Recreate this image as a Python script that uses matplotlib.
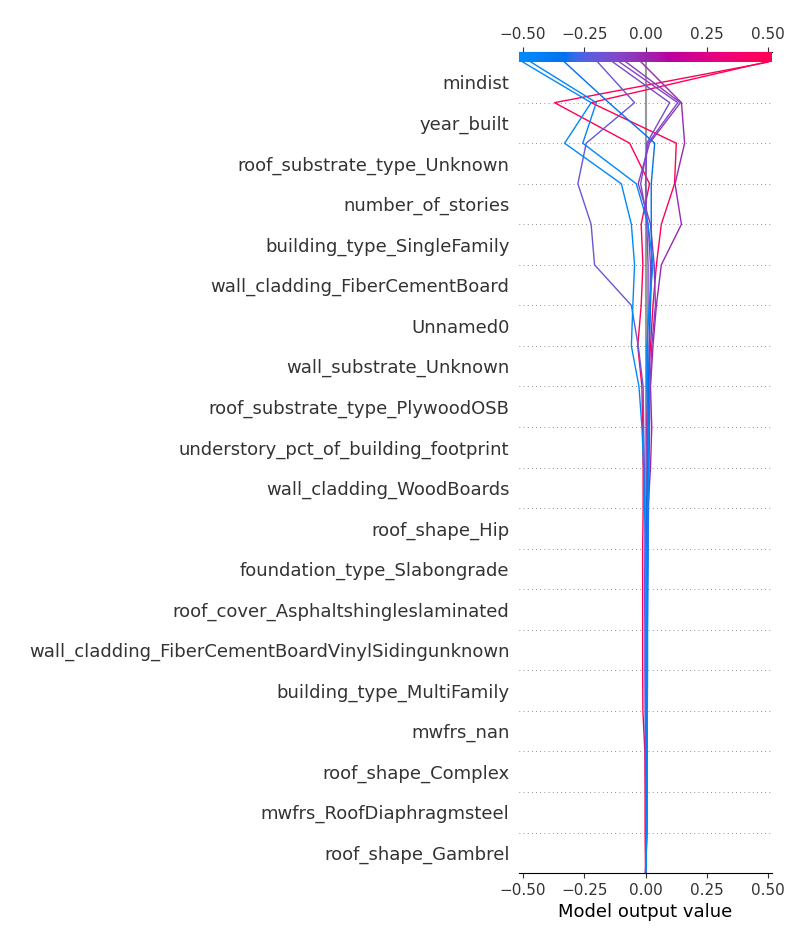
import numpy as np
import matplotlib
matplotlib.use("Agg")
import matplotlib.pyplot as plt
from matplotlib import cm
from matplotlib.colors import LinearSegmentedColormap, Normalize

# features as displayed, top to bottom
feature_names = [
    "mindist",
    "year_built",
    "roof_substrate_type_Unknown",
    "number_of_stories",
    "building_type_SingleFamily",
    "wall_cladding_FiberCementBoard",
    "Unnamed0",
    "wall_substrate_Unknown",
    "roof_substrate_type_PlywoodOSB",
    "understory_pct_of_building_footprint",
    "wall_cladding_WoodBoards",
    "roof_shape_Hip",
    "foundation_type_Slabongrade",
    "roof_cover_Asphaltshingleslaminated",
    "wall_cladding_FiberCementBoardVinylSidingunknown",
    "building_type_MultiFamily",
    "mwfrs_nan",
    "roof_shape_Complex",
    "mwfrs_RoofDiaphragmsteel",
    "roof_shape_Gambrel",
]

base_value = 0.0

# cumulative model output per observation, from the base value (bottom) to the final output (top)
obs_a = [0, 0.006, 0.007, 0.007, 0.007, 0.006, 0.005, 0.004, 0.002, -0.004, -0.008,
         -0.015, -0.027, -0.058, -0.052, -0.045, -0.058, -0.099, -0.33, -0.222, -0.50]
obs_b = [0, 0.005, 0.006, 0.007, 0.007, 0.008, 0.008, 0.009, 0.01, 0.01, 0.012,
         0.01, 0.005, 0.005, 0.015, 0.03, 0.01, -0.038, -0.256, -0.201, -0.467]
obs_c = [0, 0.004, 0.005, 0.005, 0.006, 0.006, 0.006, 0.005, 0.005, 0.005, 0.008,
         0.01, 0.012, 0.015, 0.02, 0.025, 0.023, 0.023, 0.037, -0.15, -0.33]
obs_d = [0, 0.001, 0.0, -0.001, -0.002, -0.003, -0.003, -0.004, -0.003, -0.003, -0.005,
         -0.008, -0.01, -0.03, -0.058, -0.208, -0.222, -0.276, -0.242, -0.045, -0.195]
obs_e = [0, 0.002, 0.002, 0.002, 0.002, 0.002, 0.002, 0.003, 0.004, 0.005, 0.006,
         0.006, 0.008, 0.008, 0.01, 0.01, 0.005, 0.0, 0.005, 0.098, -0.133]
obs_f = [0, 0.003, 0.003, 0.003, 0.003, 0.004, 0.005, 0.006, 0.007, 0.008, 0.01,
         0.012, 0.014, 0.015, 0.018, 0.02, 0.01, -0.02, 0.01, 0.131, -0.106]
obs_g = [0, 0.003, 0.004, 0.004, 0.005, 0.006, 0.007, 0.008, 0.01, 0.012, 0.014,
         0.016, 0.018, 0.025, 0.04, 0.035, 0.02, -0.03, 0.016, 0.142, -0.079]
obs_h = [0, 0.002, 0.003, 0.003, 0.004, 0.005, 0.006, 0.007, 0.008, 0.01, 0.02,
         0.025, 0.02, 0.03, 0.044, 0.064, 0.146, 0.12, 0.159, 0.146, -0.018]
obs_i = [0, -0.002, -0.002, -0.003, -0.011, -0.012, -0.012, -0.012, -0.012, -0.01, -0.01,
         -0.012, -0.015, -0.032, -0.018, -0.011, -0.018, 0.016, -0.065, -0.371, 0.50]
obs_j = [0, 0.004, 0.005, 0.006, 0.006, 0.006, 0.006, 0.006, 0.006, 0.007, 0.008,
         0.005, 0.01, 0.02, 0.03, 0.044, 0.064, 0.118, 0.125, -0.222, 0.49]

observations = [obs_i, obs_j, obs_h, obs_g, obs_f, obs_e, obs_d, obs_c, obs_b, obs_a]


def lch2rgb(lch):
    """
    Converts an LCH colour (hue in radians) to sRGB
    """
    l, c, h = lch
    fy = (l + 16.0) / 116.0
    f = np.array([fy + c * np.cos(h) / 500.0, fy, fy - c * np.sin(h) / 200.0])
    xyz = np.where(f ** 3 > 0.008856, f ** 3, (f - 16.0 / 116.0) / 7.787)
    xyz = xyz * np.array([0.95047, 1.0, 1.08883])
    m = np.array([[3.2404542, -1.5371385, -0.4985314],
                  [-0.9692660, 1.8760108, 0.0415560],
                  [0.0556434, -0.2040259, 1.0572252]])
    rgb = m @ xyz
    rgb = np.where(rgb > 0.0031308, 1.055 * np.abs(rgb) ** (1 / 2.4) - 0.055, 12.92 * rgb)
    return np.clip(rgb, 0, 1)


def red_blue_cmap():
    """
    Blue to red colour scale, interpolated in LCH space
    """
    blue_lch = [54., 70., 4.6588]
    red_lch = [54., 90., 0.35470565 + 2 * np.pi]
    l_mid = 40.
    nsteps = 100
    l_vals = list(np.linspace(blue_lch[0], l_mid, nsteps // 2)) + list(np.linspace(l_mid, red_lch[0], nsteps // 2))
    c_vals = np.linspace(blue_lch[1], red_lch[1], nsteps)
    h_vals = np.linspace(blue_lch[2], red_lch[2], nsteps)
    colors = [lch2rgb([l, c, h]) for l, c, h in zip(l_vals, c_vals, h_vals)]
    return LinearSegmentedColormap.from_list("red_blue", colors)


cmap = red_blue_cmap()
n = len(feature_names)
xlim = (-0.515, 0.515)
axis_color = "#333333"

fig = plt.figure(figsize=(8, 9.5), facecolor="white")
ax = fig.add_axes([0.649, 0.081, 0.316, 0.8643])

ax.axvline(base_value, color="#999999", zorder=-1)
for i in range(1, n):
    ax.axhline(i, color=axis_color, lw=0.5, dashes=(1, 5), zorder=-1)

ax.set_xlim(xlim)
norm = Normalize(*xlim)
y_pos = np.arange(n + 1)
for obs in observations:
    ax.plot(obs, y_pos, color=cmap(norm(obs[-1])), linewidth=1)

ax.xaxis.set_ticks_position("both")
ax.yaxis.set_ticks_position("none")
ax.spines["right"].set_visible(False)
ax.spines["left"].set_visible(False)
ax.tick_params(color=axis_color, labelcolor=axis_color, labeltop=True)
ax.set_yticks(np.arange(n) + 0.5)
ax.set_yticklabels(feature_names[::-1], fontsize=13)
ax.tick_params("x", labelsize=11)
ax.set_xlabel("Model output value", fontsize=13)

# colour bar on top
ax.set_ylim(0, n + 0.25)
ax_cb = ax.inset_axes([xlim[0], n, xlim[1] - xlim[0], 0.25], transform=ax.transData)
m = cm.ScalarMappable(cmap=cmap)
m.set_array(np.array([0, 1]))
cb = fig.colorbar(m, cax=ax_cb, orientation="horizontal")
cb.set_ticks([])
cb.outline.set_visible(False)

fig.savefig("out.png", dpi=100)
